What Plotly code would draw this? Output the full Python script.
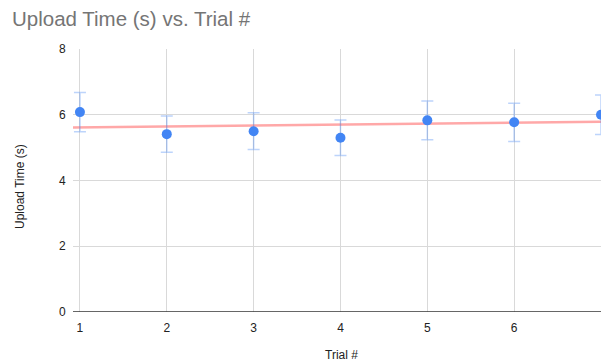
import numpy as np
import plotly.graph_objects as go

trials = [1, 2, 3, 4, 5, 6, 7]
upload_time = [6.08, 5.41, 5.50, 5.30, 5.83, 5.77, 6.00]
error = [0.60, 0.55, 0.56, 0.54, 0.59, 0.58, 0.60]
y_ticks = [0, 2, 4, 6, 8]

slope, intercept = np.polyfit(trials, upload_time, 1)
x_range = [0.92, 7.0]
trend_x = [0.92, 7.0]
trend_y = [slope * v + intercept for v in trend_x]

W, H = 601, 363
L, T, B = 73, 49, 51
PW, PH = W - L, H - T - B

fig = go.Figure()
fig.add_trace(go.Scatter(
    x=trend_x, y=trend_y, mode="lines",
    line=dict(color="rgba(255,110,110,0.6)", width=2.5),
    hoverinfo="skip", showlegend=False,
))
fig.add_trace(go.Scatter(
    x=trials, y=upload_time, mode="markers",
    marker=dict(color="#4285F4", size=10),
    error_y=dict(type="data", array=error, visible=True,
                 color="rgba(66,133,244,0.35)", thickness=1.5, width=6),
    showlegend=False, cliponaxis=False,
))

font = "Arial, 'Liberation Sans', sans-serif"
fig.update_layout(
    width=W, height=H,
    margin=dict(l=L, r=0, t=T, b=B, pad=0, autoexpand=False),
    paper_bgcolor="white", plot_bgcolor="white",
    font=dict(family=font, color="#222222", size=12),
    title=dict(text="Upload Time (s) vs. Trial #", x=12 / W, xref="container", xanchor="left",
               y=1 - 19 / H, yref="container", yanchor="middle",
               font=dict(family=font, size=20.5, color="#757575")),
)
fig.update_xaxes(
    range=x_range, tickvals=trials, ticktext=[str(t) for t in trials],
    showgrid=True, gridcolor="#d9d9d9", gridwidth=1,
    zeroline=False, showline=False, automargin=False,
    ticks="outside", ticklen=5, tickcolor="rgba(0,0,0,0)",
    tickfont=dict(size=12, color="#222222"),
)
fig.update_yaxes(
    range=[0, 8], tickvals=y_ticks,
    showgrid=True, gridcolor="#d9d9d9", gridwidth=1,
    zeroline=False, showline=False, automargin=False,
    ticks="outside", ticklen=4, tickcolor="rgba(0,0,0,0)",
    tickfont=dict(size=12, color="#222222"),
)
fig.add_shape(type="line", xref="paper", yref="y", x0=0, x1=1, y0=0, y1=0,
              line=dict(color="#333333", width=1.5))
fig.add_annotation(text="Trial #", xref="paper", yref="paper", x=(341 - L) / PW,
                   y=-(355 - (T + PH)) / PH, xanchor="center", yanchor="middle",
                   showarrow=False, font=dict(size=12, color="#222222"))
fig.add_annotation(text="Upload Time (s)", xref="paper", yref="paper", x=-(L - 20) / PW,
                   y=1 - (187 - T) / PH, xanchor="center", yanchor="middle", textangle=-90,
                   showarrow=False, font=dict(size=12, color="#222222"))

fig.write_html(
    "out.html",
    config={"displayModeBar": False},
    post_script="document.body.style.margin='0';document.body.style.overflow='hidden';",
)
